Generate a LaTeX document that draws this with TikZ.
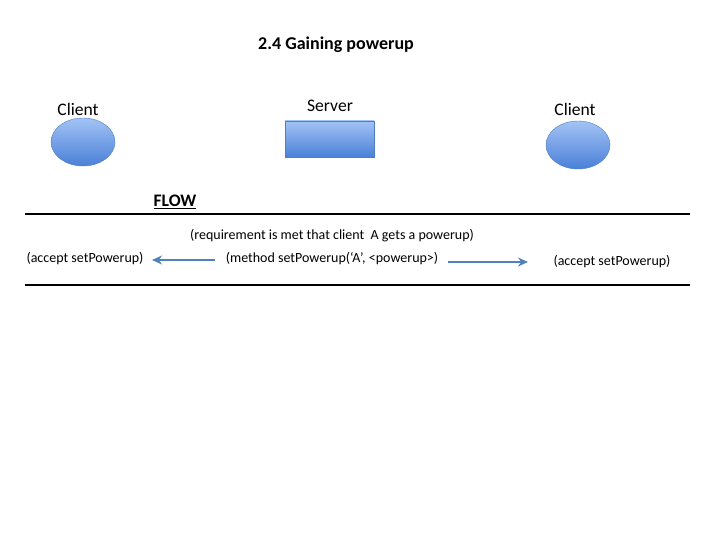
\documentclass[tikz,border=0pt]{standalone}
\usepackage{fontspec}
\setmainfont{Carlito}
\usetikzlibrary{arrows.meta,shapes.geometric}
\definecolor{shapeborder}{HTML}{4F7FC0}
\definecolor{shapetop}{HTML}{A3C3F5}
\definecolor{shapebot}{HTML}{4A80D8}
\definecolor{arrowcol}{HTML}{4F81BD}
\tikzset{
  x=1pt, y=-1pt,
  lbl/.style={font=\fontsize{17.6}{20}\selectfont, inner sep=0pt},
  small/.style={font=\fontsize{14}{16}\selectfont, inner sep=0pt},
  clientshape/.style={ellipse, draw=shapeborder, top color=shapetop, bottom color=shapebot, minimum width=64pt, minimum height=48pt, inner sep=0pt},
  servershape/.style={rectangle, draw=shapeborder, top color=shapetop, bottom color=shapebot, minimum width=89pt, minimum height=36pt, inner sep=0pt},
  rule/.style={line width=1.5pt, black},
  flowarrow/.style={draw=arrowcol, line width=1.6pt, -{Stealth[length=10pt,width=9pt]}}
}
\begin{document}
\begin{tikzpicture}
\useasboundingbox (0,0) rectangle (720,540);
\node[font=\bfseries\fontsize{18}{20}\selectfont, inner sep=0pt] (title) at (336,45) {2.4 Gaining powerup};
\node[lbl] (clientLlbl) at (78,109) {Client};
\node[clientshape] (clientL) at (83,142) {};
\node[lbl] (serverlbl) at (330,106) {Server};
\node[servershape] (server) at (329.5,139) {};
\node[lbl] (clientRlbl) at (575,109) {Client};
\node[clientshape] (clientR) at (578,145) {};
\node[font=\bfseries\fontsize{17.6}{20}\selectfont, inner sep=0pt] (flow) at (175,202) {\underline{FLOW}};
\coordinate (r1a) at (25,214);
\coordinate (r1b) at (690,214);
\draw[rule] (r1a) -- (r1b);
\node[small] (req) at (332,236) {(requirement is met that client\ \ A gets a powerup)};
\node[small] (accL) at (85,259) {(accept setPowerup)};
\node[small] (method) at (332,259) {(method setPowerup(‘A’, <powerup>)};
\node[small] (accR) at (612,262) {(accept setPowerup)};
\coordinate (aLs) at (215,260);
\coordinate (aLe) at (152,260);
\coordinate (aRs) at (448,262);
\coordinate (aRe) at (528,262);
\draw[flowarrow] (aLs) -- (aLe);
\draw[flowarrow] (aRs) -- (aRe);
\coordinate (r2a) at (25,285);
\coordinate (r2b) at (690,285);
\draw[rule] (r2a) -- (r2b);
\end{tikzpicture}
\end{document}
